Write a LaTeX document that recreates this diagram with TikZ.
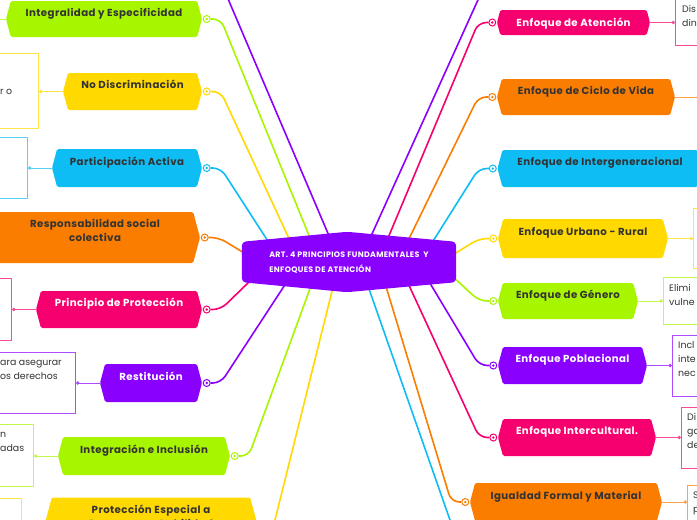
\documentclass[tikz,border=0pt]{standalone}
\usepackage{fontspec}
\setmainfont{Poppins}
\newfontfamily\branchfont{Poppins}[LetterSpace=4]
\usetikzlibrary{shapes.symbols,positioning,calc,arrows.meta}

\definecolor{mmLime}{HTML}{A8F500}
\definecolor{mmYellow}{HTML}{FFD900}
\definecolor{mmBlue}{HTML}{0FBDF5}
\definecolor{mmOrange}{HTML}{FA7D00}
\definecolor{mmPink}{HTML}{F5006E}
\definecolor{mmPurple}{HTML}{8A00FF}
\definecolor{mmText}{HTML}{333333}

\pgfdeclarelayer{edges}
\pgfdeclarelayer{back}
\pgfsetlayers{edges,back,main}

\tikzset{
  rootbox/.style={minimum width=214pt,minimum height=40pt,align=left,text=white,
    font=\branchfont\fontsize{7.9}{15}\selectfont\bfseries},
  branch/.style={signal,signal to=west and east,signal pointer angle=150,fill=#1,
    rounded corners=1.5pt,inner xsep=4pt,inner ysep=0pt,text height=7pt,text depth=13pt,
    text=mmText,font=\branchfont\fontsize{10.2}{14}\selectfont\bfseries},
  twoline/.style={align=center,text height=21pt,text depth=13pt},
  light/.style={text=white},
  hub/.style={circle,draw=#1,fill=white,line width=1pt,minimum size=7pt,inner sep=0pt,
    path picture={\fill[#1] (path picture bounding box.center) circle (1.3pt);}},
  link/.style={draw=#1,line width=1.6pt,rounded corners=8pt},
  note/.style={draw=#1!70!white,line width=1pt,fill=white,anchor=north west,inner sep=0pt},
  notelink/.style={draw=#1!70!white,line width=1pt,-{Circle[length=3.5pt]}},
  notetext/.style={anchor=west,align=left,inner sep=0pt,text=mmText,
    font=\fontsize{9.4}{14}\selectfont},
}

\begin{document}
\begin{tikzpicture}[x=1pt,y=-1pt]
\useasboundingbox (0,0) rectangle (697,520);

% centre
\node[rootbox] (root) at (349,263) {ART. 4 PRINCIPIOS FUNDAMENTALES\ \ Y\\ENFOQUES DE ATENCIÓN};
\begin{pgfonlayer}{back}
\fill[mmPurple,rounded corners=4pt] ($(root.south west)+(0,-1)$) -- ($(root.north west)+(0,-1)$) -- ($(root.north)+(-2,-11)$)
  -- ($(root.north east)+(0,-1)$) -- ($(root.south east)+(0,-1)$) -- ($(root.south)+(-2,9)$) -- cycle;
\end{pgfonlayer}

% left principles
\node[branch=mmLime,minimum width=196pt,minimum height=36pt] (integ) at (104,19) {Integralidad y Especificidad};
\node[branch=mmYellow,minimum width=139pt,minimum height=37pt] (nodisc) at (132.5,91.5) {No Discriminación};
\node[branch=mmBlue,minimum width=150pt,minimum height=38pt] (partic) at (127,168) {Participación Activa};
\node[branch=mmOrange,twoline,minimum width=210pt,minimum height=51pt] (respon) at (95,237.5) {Responsabilidad social\\colectiva};
\node[branch=mmPink,light,minimum width=166pt,minimum height=37pt] (protec) at (119,309.5) {Principio de Protección};
\node[branch=mmPurple,light,minimum width=102pt,minimum height=38pt] (restit) at (151,383) {Restitución};
\node[branch=mmLime,minimum width=172pt,minimum height=38pt] (integr) at (144,456) {Integración e Inclusión};
\node[branch=mmYellow,twoline,minimum width=212pt,minimum height=51pt] (espec) at (151,523) {Protección Especial a\\Personas en Debilidad};

% right approaches
\node[branch=mmPink,light,minimum width=153pt,minimum height=25pt,text depth=0pt] (atenc) at (573.5,22.5) {Enfoque de Atención};
\node[branch=mmOrange,minimum width=178pt,minimum height=36pt] (ciclo) at (586,97) {Enfoque de Ciclo de Vida};
\node[branch=mmBlue,minimum width=205pt,minimum height=37pt] (interg) at (600,168.5) {Enfoque de Intergeneracional};
\node[branch=mmYellow,minimum width=170pt,minimum height=39pt] (urbano) at (583,238.5) {Enfoque Urbano - Rural};
\node[branch=mmLime,minimum width=140pt,minimum height=36pt] (genero) at (568,301) {Enfoque de Género};
\node[branch=mmPurple,light,minimum width=149pt,minimum height=37pt] (pobla) at (572.5,365.5) {Enfoque Poblacional};
\node[branch=mmPink,light,minimum width=158pt,minimum height=37pt] (intercu) at (577,437.5) {Enfoque Intercultural.};
\node[branch=mmOrange,minimum width=192pt,minimum height=38pt] (igual) at (566,502) {Igualdad Formal y Material};

% hubs
\foreach \n/\c in {integ/mmLime,nodisc/mmYellow,partic/mmBlue,respon/mmOrange,protec/mmPink,restit/mmPurple,integr/mmLime}
  \node[hub=\c,right=0.5pt of \n] (\n-hub) {};
\foreach \n/\c in {atenc/mmPink,ciclo/mmOrange,interg/mmBlue,urbano/mmYellow,genero/mmLime,pobla/mmPurple,intercu/mmPink,igual/mmOrange}
  \node[hub=\c,left=0.5pt of \n] (\n-hub) {};

% links to the centre
\coordinate (offtl) at (220,-20);
\coordinate (offtr) at (487,-20);
\coordinate (offbl) at (270,540);
\coordinate (offbr) at (457,540);
\begin{pgfonlayer}{edges}
\foreach \n/\c/\dx in {integ/mmLime/-37,nodisc/mmYellow/-58,partic/mmBlue/-80}
  \draw[link=\c] (\n-hub.east) -- ++(10,0) -- ($(root.north)+(\dx,0)$);
\foreach \n/\c/\dx in {restit/mmPurple/-63,integr/mmLime/-37}
  \draw[link=\c] (\n-hub.east) -- ++(10,0) -- ($(root.south)+(\dx,0)$);
\draw[link=mmOrange] (respon-hub.east) -- ++(10,0) -- ($(root.north west)+(2,10)$);
\draw[link=mmPink] (protec-hub.east) -- ++(10,0) -- ($(root.south west)+(8,-2)$);
\foreach \n/\c/\dx in {atenc/mmPink/37,ciclo/mmOrange/58,interg/mmBlue/83}
  \draw[link=\c] (\n-hub.west) -- ++(-10,0) -- ($(root.north)+(\dx,0)$);
\foreach \n/\c/\dx in {pobla/mmPurple/81,intercu/mmPink/59,igual/mmOrange/36}
  \draw[link=\c] (\n-hub.west) -- ++(-10,0) -- ($(root.south)+(\dx,0)$);
\draw[link=mmYellow] (urbano-hub.west) -- ++(-10,0) -- ($(root.east)+(-2,-9)$);
\draw[link=mmLime] (genero-hub.west) -- ++(-10,0) -- ($(root.east)+(-2,15)$);
\draw[link=mmPurple] ($(root.north)+(-17,0)$) -- (offtl);
\draw[link=mmPurple] ($(root.north)+(19,0)$) -- (offtr);
\draw[link=mmYellow] ($(root.south)+(-15,0)$) -- (offbl);
\draw[link=mmBlue] ($(root.south)+(18,0)$) -- (offbr);
\end{pgfonlayer}

% notes
\node[note=mmLime,minimum width=70pt,minimum height=60pt] (integ-note) at (-90,-10) {};
\node[note=mmYellow,minimum width=43pt,minimum height=75pt] (nodisc-note) at (-5,53) {};
\node[note=mmBlue,minimum width=32pt,minimum height=61pt] (partic-note) at (-5,137) {};
\node[note=mmPink,minimum width=16pt,minimum height=62pt] (protec-note) at (-5,278) {};
\node[note=mmPurple,minimum width=80pt,minimum height=61pt] (restit-note) at (-5,352) {};
\node[note=mmLime,minimum width=38pt,minimum height=62pt] (integr-note) at (-5,424) {};
\node[note=mmYellow,minimum width=26pt,minimum height=62pt] (espec-note) at (-5,498) {};
\node[note=mmPink,minimum width=65pt,minimum height=65pt] (atenc-note) at (675,-20) {};
\node[note=mmOrange,minimum width=60pt,minimum height=75pt] (ciclo-note) at (700,60) {};
\node[note=mmYellow,minimum width=67pt,minimum height=60pt] (urbano-note) at (693,208) {};
\node[note=mmLime,minimum width=97pt,minimum height=47pt] (genero-note) at (663,277) {};
\node[note=mmPurple,minimum width=88pt,minimum height=61pt] (pobla-note) at (672,335) {};
\node[note=mmPink,minimum width=79pt,minimum height=61pt] (intercu-note) at (681,407) {};
\node[note=mmOrange,minimum width=73pt,minimum height=60pt] (igual-note) at (687,485) {};

\foreach \n/\c in {integ/mmLime,nodisc/mmYellow,partic/mmBlue,protec/mmPink,restit/mmPurple,integr/mmLime}
  \draw[notelink=\c] (\n.west) -- (\n.west -| \n-note.east);
\foreach \n/\c in {atenc/mmPink,ciclo/mmOrange,urbano/mmYellow,genero/mmLime,pobla/mmPurple,intercu/mmPink,igual/mmOrange}
  \draw[notelink=\c] (\n.east) -- (\n.east -| \n-note.west);

\node[notetext] (nodisc-txt) at (0,92) {r o};
\node[notetext] (restit-txt) at (0,370) {ara asegurar\\os derechos};
\node[notetext] (integr-txt) at (0,442) {n\\adas};
\node[notetext] (atenc-txt) at (682,15.5) {Dis\\din};
\node[notetext] (genero-txt) at (669,294.5) {Elimi\\vulne};
\node[notetext] (pobla-txt) at (678,359) {Incl\\inte\\nec};
\node[notetext] (intercu-txt) at (687,431) {Di\\ga\\de};
\node[notetext] (igual-txt) at (693,503) {S\\p};
\end{tikzpicture}
\end{document}
